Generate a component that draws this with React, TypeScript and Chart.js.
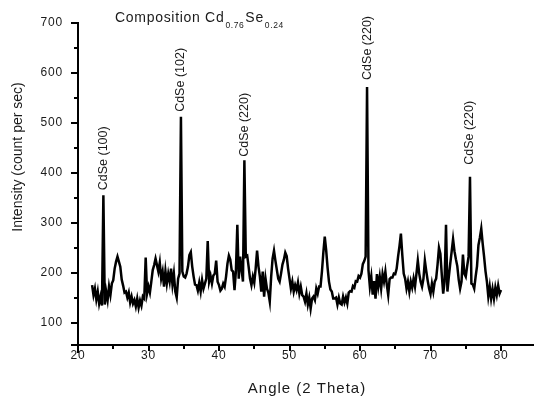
import React, { useEffect, useRef } from "react";
import { Chart, registerables } from "chart.js";

Chart.register(...registerables);

// Angle grid (2 Theta), degrees
const ANGLE_START = 22;
const ANGLE_STEP = 0.2;

// Intensity (count per sec), one value per 0.2 degree from 22.0 to 80.0
const intensities: number[] = [
  175, 155, 168, 146, 162, // 22
  138, 152, 134, 355, 136, // 23
  162, 145, 172, 155, 178, // 24
  185, 208, 222, 232, 222, // 25
  212, 186, 174, 160, 162, // 26
  150, 160, 140, 152, 138, // 27
  145, 132, 148, 130, 144, // 28
  134, 152, 148, 230, 158, // 29
  172, 160, 182, 205, 215, // 30
  228, 215, 202, 220, 188, // 31
  202, 172, 203, 178, 198, // 32
  182, 208, 176, 198, 162, // 33
  150, 188, 198, 512, 202, // 34
  192, 190, 198, 212, 235, // 35
  241, 212, 192, 176, 175, // 36
  164, 180, 162, 185, 168, // 37
  178, 188, 263, 182, 194, // 38
  178, 194, 198, 224, 182, // 39
  175, 164, 168, 178, 172, // 40
  192, 218, 234, 226, 205, // 41
  202, 165, 204, 296, 188, // 42
  232, 206, 182, 425, 232, // 43
  234, 212, 188, 175, 192, // 44
  180, 208, 244, 212, 192, // 45
  162, 202, 152, 188, 168, // 46
  160, 142, 192, 228, 244, // 47
  224, 206, 188, 182, 198, // 48
  216, 226, 240, 233, 208, // 49
  188, 168, 182, 162, 175, // 50
  165, 180, 158, 172, 155, // 51
  152, 142, 158, 136, 150, // 52
  128, 148, 152, 145, 168, // 53
  158, 172, 172, 202, 240, // 54
  272, 245, 210, 182, 166, // 55
  162, 148, 148, 150, 136, // 56
  150, 138, 136, 152, 140, // 57
  150, 138, 160, 163, 162, // 58
  173, 170, 183, 182, 193, // 59
  190, 198, 217, 223, 232, // 60
  572, 205, 172, 192, 156, // 61
  183, 148, 197, 172, 192, // 62
  168, 197, 182, 202, 176, // 63
  155, 187, 190, 190, 198, // 64
  197, 208, 232, 253, 278, // 65
  235, 198, 188, 168, 182, // 66
  162, 182, 170, 188, 172, // 67
  197, 224, 198, 182, 172, // 68
  188, 224, 203, 184, 168, // 69
  157, 178, 162, 182, 188, // 70
  216, 250, 238, 196, 158, // 71
  182, 296, 162, 192, 218, // 72
  242, 267, 243, 227, 213, // 73
  186, 168, 182, 236, 198, // 74
  192, 213, 232, 392, 178, // 75
  176, 168, 192, 213, 255, // 76
  270, 288, 258, 232, 203, // 77
  182, 152, 172, 148, 167, // 78
  148, 170, 155, 174, 158, // 79
  165, // 80
];

// Axis ticks
const xMajorTicks = [20, 30, 40, 50, 60, 70, 80];
const xMinorTicks = [25, 35, 45, 55, 65, 75];
const yMajorTicks = [100, 200, 300, 400, 500, 600, 700];
const yMinorTicks = [150, 250, 350, 450, 550, 650];

// Peak annotations
const peakLabels = ["CdSe (100)", "CdSe (102)", "CdSe (220)", "CdSe (220)", "CdSe (220)"];
const peakAngles = [23.6, 34.6, 43.6, 61.0, 75.6];
const peakLabelBase = [365, 522, 432, 586, 416];

const TITLE_MAIN_1 = "Composition Cd";
const TITLE_SUB_1 = "0.76";
const TITLE_MAIN_2 = "Se";
const TITLE_SUB_2 = "0.24";
const X_TITLE = "Angle (2 Theta)";
const Y_TITLE = "Intensity (count per sec)";

const FONT = "'Liberation Sans', Arial, sans-serif";

export default function App() {
  const ref = useRef<HTMLCanvasElement | null>(null);

  useEffect(() => {
    if (!ref.current) return;
    const points = intensities.map((v, i) => ({ x: ANGLE_START + ANGLE_STEP * i, y: v }));

    const decor = {
      id: "decor",
      beforeDraw(chart: any) {
        chart.ctx.letterSpacing = "0.8px";
      },
      afterDraw(chart: any) {
        const ctx = chart.ctx as CanvasRenderingContext2D;
        const xs = chart.scales.x;
        const ys = chart.scales.y;
        const left = Math.round(chart.chartArea.left);
        const right = Math.round(chart.chartArea.right);
        const top = Math.round(chart.chartArea.top);
        const bottom = Math.round(chart.chartArea.bottom);
        ctx.save();
        ctx.letterSpacing = "0px";
        ctx.fillStyle = "#000";
        // axes
        ctx.fillRect(left - 1, top - 1, 2, bottom + 8 - top + 1);
        ctx.fillRect(left - 7, bottom - 1, right - left + 7, 2);
        // y ticks
        yMajorTicks.forEach((v) => {
          const y = Math.round(ys.getPixelForValue(v));
          ctx.fillRect(left - 7, y - 1, 7, 2);
        });
        yMinorTicks.forEach((v) => {
          const y = Math.round(ys.getPixelForValue(v));
          ctx.fillRect(left - 4, y - 1, 4, 2);
        });
        xMajorTicks.forEach((v) => {
          const x = Math.round(xs.getPixelForValue(v));
          ctx.fillRect(x - 1, bottom, 2, 6);
        });
        xMinorTicks.forEach((v) => {
          const x = Math.round(xs.getPixelForValue(v));
          ctx.fillRect(x - 1, bottom, 2, 4);
        });

        ctx.fillStyle = "#1a1a1a";
        // title
        let tx = 115;
        ctx.textAlign = "left";
        ctx.textBaseline = "alphabetic";
        ctx.font = `14px ${FONT}`;
        ctx.letterSpacing = "0.7px";
        ctx.fillText(TITLE_MAIN_1, tx, 21.5);
        tx += ctx.measureText(TITLE_MAIN_1).width + 1;
        ctx.font = `8.5px ${FONT}`;
        ctx.letterSpacing = "0.6px";
        ctx.fillText(TITLE_SUB_1, tx, 27.5);
        tx += ctx.measureText(TITLE_SUB_1).width + 1;
        ctx.font = `14px ${FONT}`;
        ctx.letterSpacing = "0.7px";
        ctx.fillText(TITLE_MAIN_2, tx, 21.5);
        tx += ctx.measureText(TITLE_MAIN_2).width + 1;
        ctx.font = `8.5px ${FONT}`;
        ctx.letterSpacing = "0.6px";
        ctx.fillText(TITLE_SUB_2, tx, 27.5);

        // x title
        ctx.font = `15px ${FONT}`;
        ctx.letterSpacing = "1px";
        ctx.textAlign = "center";
        ctx.fillText(X_TITLE, 307, 393);

        // y title
        ctx.save();
        ctx.translate(18, 157);
        ctx.rotate(-Math.PI / 2);
        ctx.font = `14px ${FONT}`;
        ctx.letterSpacing = "0px";
        ctx.textAlign = "center";
        ctx.textBaseline = "middle";
        ctx.fillText(Y_TITLE, 0, 0);
        ctx.restore();

        // peak labels
        ctx.font = `12.5px ${FONT}`;
        ctx.letterSpacing = "0px";
        peakLabels.forEach((lab, i) => {
          const x = xs.getPixelForValue(peakAngles[i]);
          const y = ys.getPixelForValue(peakLabelBase[i]);
          ctx.save();
          ctx.translate(x, y);
          ctx.rotate(-Math.PI / 2);
          ctx.textAlign = "left";
          ctx.textBaseline = "middle";
          ctx.fillText(lab, 0, 0);
          ctx.restore();
        });
        ctx.restore();
      },
    };

    const chart = new Chart(ref.current, {
      type: "line",
      data: {
        datasets: [
          {
            data: points,
            borderColor: "#000",
            borderWidth: 2.5,
            borderJoinStyle: "miter",
            pointRadius: 0,
            tension: 0,
            fill: false,
          },
        ],
      },
      options: {
        animation: false,
        responsive: false,
        devicePixelRatio: 1,
        layout: { padding: { top: 23, right: 0, left: 0, bottom: 0 } },
        plugins: { legend: { display: false }, tooltip: { enabled: false }, title: { display: false } },
        scales: {
          x: {
            type: "linear",
            min: 20,
            max: 84.68,
            grid: { display: false, drawTicks: false },
            border: { display: false },
            afterBuildTicks: (s: any) => {
              s.ticks = xMajorTicks.map((v) => ({ value: v }));
            },
            afterFit: (s: any) => {
              s.height = 54;
            },
            ticks: {
              padding: 3,
              color: "#1a1a1a",
              font: { family: FONT, size: 12 },
              maxRotation: 0,
              callback: (v: any) => String(v),
            },
          },
          y: {
            type: "linear",
            min: 55,
            max: 700,
            grid: { display: false, drawTicks: false },
            border: { display: false },
            afterBuildTicks: (s: any) => {
              s.ticks = yMajorTicks.map((v) => ({ value: v }));
            },
            afterFit: (s: any) => {
              s.width = 78;
            },
            ticks: {
              padding: 15,
              color: "#1a1a1a",
              font: { family: FONT, size: 12 },
              callback: (v: any) => String(v),
            },
          },
        },
      },
      plugins: [decor],
    });
    return () => chart.destroy();
  }, []);

  return (
    <div style={{ position: "fixed", left: 0, top: 0, width: 534, height: 399, background: "#fff" }}>
      <canvas ref={ref} width={534} height={399} style={{ width: 534, height: 399, display: "block" }} />
    </div>
  );
}
